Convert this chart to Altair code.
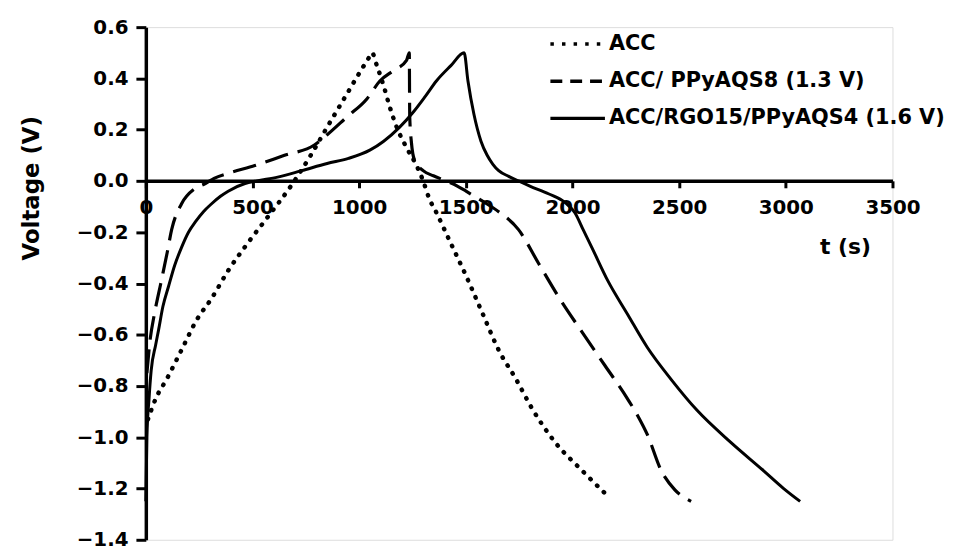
import altair as alt
import pandas as pd

# ---- data (t in s, V in volts) ----
series_names = ["ACC", "ACC/ PPyAQS8 (1.3 V)", "ACC/RGO15/PPyAQS4 (1.6 V)"]

acc_t = [10, 46, 100, 167, 240, 307, 386, 480, 572, 680, 773, 850, 943, 1000, 1045, 1060,
         1083, 1115, 1143, 1176, 1222, 1269, 1300, 1329, 1360, 1422, 1501, 1580, 1654, 1733,
         1812, 1919, 2045, 2166]
acc_v = [-0.93, -0.85, -0.77, -0.66, -0.54, -0.46, -0.35, -0.24, -0.14, -0.02, 0.10, 0.21, 0.34,
         0.42, 0.48, 0.50, 0.45, 0.37, 0.29, 0.21, 0.13, 0.06, 0.0, -0.07, -0.12, -0.23, -0.37,
         -0.52, -0.66, -0.77, -0.89, -1.02, -1.13, -1.23]

ppy_t = [5, 20, 40, 70, 100, 121, 167, 230, 279, 320, 386, 511, 650, 790, 850, 943, 1036, 1097,
         1160, 1222, 1235, 1237, 1245, 1260, 1300, 1348, 1408, 1460, 1501, 1580, 1654, 1747,
         1840, 1933, 2045, 2152, 2258, 2305, 2351, 2416, 2480, 2556]
ppy_v = [-0.75, -0.62, -0.52, -0.40, -0.28, -0.19, -0.09, -0.03, -0.01, 0.01, 0.03, 0.06, 0.10,
         0.14, 0.18, 0.25, 0.32, 0.39, 0.43, 0.47, 0.50, 0.25, 0.15, 0.08, 0.04, 0.02, 0.0, -0.02,
         -0.04, -0.08, -0.12, -0.19, -0.32, -0.45, -0.59, -0.72, -0.85, -0.915, -0.99, -1.13,
         -1.205, -1.25]

rgo_t = [0, 5, 15, 25, 46, 60, 80, 107, 135, 167, 200, 232, 270, 307, 350, 386, 465, 520, 618,
         730, 850, 950, 1050, 1115, 1190, 1255, 1310, 1362, 1430, 1492, 1510, 1538, 1571, 1600,
         1626, 1654, 1701, 1747, 1800, 1887, 1966, 2012, 2050, 2091, 2166, 2258, 2351,
         2463, 2584, 2742, 2895, 2990, 3067]
rgo_v = [-1.25, -1.0, -0.85, -0.74, -0.64, -0.58, -0.49, -0.41, -0.33, -0.26, -0.20, -0.16, -0.12,
         -0.09, -0.06, -0.04, -0.01, 0.0, 0.015, 0.04, 0.068, 0.088, 0.12, 0.155, 0.21, 0.27, 0.33,
         0.39, 0.45, 0.50, 0.39, 0.26, 0.155, 0.10, 0.066, 0.04, 0.018, 0.0, -0.02, -0.05, -0.085,
         -0.125, -0.19, -0.26, -0.39, -0.52, -0.65, -0.775, -0.895, -1.02, -1.13, -1.20, -1.25]

x_ticks = [0, 500, 1000, 1500, 2000, 2500, 3000, 3500]
y_ticks = [-1.4, -1.2, -1.0, -0.8, -0.6, -0.4, -0.2, 0.0, 0.2, 0.4, 0.6]

rows = []
for name, ts, vs in zip(series_names, [acc_t, ppy_t, rgo_t], [acc_v, ppy_v, rgo_v]):
    for i, (t, v) in enumerate(zip(ts, vs)):
        rows.append({"series": name, "t": t, "V": v, "i": i})
df = pd.DataFrame(rows)

FONT = "DejaVu Sans"

x_enc = alt.X("t:Q", scale=alt.Scale(domain=[0, 3500], nice=False),
              axis=alt.Axis(values=x_ticks, format="d", title="t (s)", orient="bottom",
                            offset=-362, grid=False, domainColor="black", domainWidth=3.5,
                            tickColor="black", tickWidth=3, tickSize=7, labelPadding=10,
                            labelFlush=False, labelOverlap=False,
                            labelFont=FONT, labelFontWeight="bold", labelFontSize=20,
                            labelColor="black", labelBaseline="top",
                            titleFont=FONT, titleFontWeight="bold", titleFontSize=22,
                            titleColor="black", titleX=705, titleY=66, titleAlign="center",
                            titleBaseline="middle"))
y_enc = alt.Y("V:Q", scale=alt.Scale(domain=[-1.4, 0.6], nice=False, zero=False),
              axis=alt.Axis(values=y_ticks, format=".1f", title="Voltage (V)", grid=False,
                            domainColor="black", domainWidth=3.5, tickColor="black",
                            tickWidth=3, tickSize=10, labelPadding=8, labelFont=FONT,
                            labelFlush=False, labelOverlap=False,
                            labelFontWeight="bold", labelFontSize=20, labelColor="black",
                            titleFont=FONT, titleFontWeight="bold", titleFontSize=23,
                            titleColor="black", titleX=-115, titleY=162, titleAngle=270,
                            titleAlign="center", titleBaseline="middle"))

base = alt.Chart(df)

dotted = base.transform_filter(alt.datum.series == series_names[0]).mark_line(
    color="black", strokeWidth=4.5, strokeDash=[0.5, 9], strokeCap="round",
    interpolate="monotone"
).encode(x=x_enc, y=y_enc, order="i:Q")

dashed = base.transform_filter(alt.datum.series == series_names[1]).mark_line(
    color="black", strokeWidth=3.2, strokeDash=[24, 10], interpolate="monotone"
).encode(x=x_enc, y=y_enc, order="i:Q")

solid = base.transform_filter(alt.datum.series == series_names[2]).mark_line(
    color="black", strokeWidth=3, interpolate="monotone"
).encode(x=x_enc, y=y_enc, order="i:Q")

legend_layer = base.mark_line(color="black", opacity=0).encode(
    x=x_enc, y=y_enc, order="i:Q",
    strokeDash=alt.StrokeDash(
        "series:N",
        scale=alt.Scale(domain=series_names, range=[[3.5, 8.2], [12, 8], [1, 0]]),
        sort=series_names,
        legend=alt.Legend(title=None, orient="none", legendX=406, legendY=6,
                          symbolType="stroke", symbolSize=3025, symbolStrokeWidth=3.5,
                          symbolStrokeColor="black", symbolOpacity=1, clipHeight=22,
                          rowPadding=15.5, padding=0, labelOffset=2, symbolOffset=0,
                          labelFont=FONT, labelFontWeight="bold", labelFontSize=21,
                          labelColor="black", labelLimit=500),
    ),
)

chart = alt.layer(dotted, dashed, solid, legend_layer).properties(
    width=753, height=517,
    autosize=alt.AutoSizeParams(type="none"),
    padding={"left": 139, "top": 17, "right": 58, "bottom": 9},
).configure_view(stroke=None).configure(background="white")

chart.save("out.html", embed_options={"renderer": "svg", "actions": False})
